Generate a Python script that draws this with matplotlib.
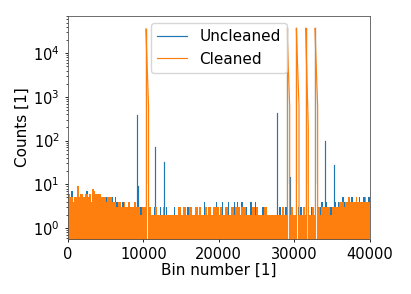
import numpy as np
import matplotlib
matplotlib.use("Agg")
import matplotlib.pyplot as plt
from matplotlib.lines import Line2D

# ---------------- data ----------------
SEGMENT_WIDTH = 200  # bins per noise segment

# upper envelope of the noise floor, one value per 200-bin segment
cleaned_noise = [
    # 0 - 4000
    6, 5, 5, 4, 5, 5, 9, 5, 6, 6, 5, 6, 6, 5, 6, 4, 8, 7, 6, 6,
    # 4000 - 6000
    6, 6, 5, 5, 5, 4, 5, 5, 5, 4,
    # 6000 - 7000
    4, 4, 3, 4, 4,
    # 7000 - 9000
    3, 3, 4, 3, 3, 4, 3, 3, 3, 4,
    # 9000 - 10400
    3, 3, 3, 2, 3, 3, 3,
    # 10400 - 13600
    2, 2, 3, 2, 2, 2, 3, 2, 2, 2, 2, 3, 2, 2, 2, 2,
    # 13600 - 27000
    2, 2, 2, 2, 2, 3, 3, 2, 3, 3, 2, 2, 3, 3, 2, 2, 3, 3, 2, 3,
    2, 2, 2, 3, 2, 3, 3, 2, 3, 3, 3, 3, 2, 3, 2, 2, 3, 3, 2, 2,
    3, 3, 2, 3, 3, 3, 2, 3, 3, 3, 2, 2, 2, 2, 3, 3, 2, 3, 2, 2,
    2, 2, 3, 3, 2, 2, 2,
    # 27000 - 33000
    2, 2, 2, 2, 2, 2, 2, 3, 2, 2, 2, 2, 2, 3, 2, 2, 3, 2, 2, 2,
    2, 3, 2, 2, 3, 2, 2, 3, 2, 2,
    # 33000 - 36000
    3, 3, 2, 3, 3, 3, 3, 3, 3, 2, 3, 3, 3, 3, 3,
    # 36000 - 40000
    4, 4, 4, 3, 4, 4, 5, 4, 4, 4, 4, 5, 4, 4, 4, 4, 4, 5, 4, 4,
]
uncleaned_noise = [
    # 0 - 4000
    6, 5, 7, 4, 5, 5, 9, 5, 6, 6, 5, 6, 7, 5, 6, 4, 8, 7, 6, 6,
    # 4000 - 6000
    6, 6, 5, 5, 5, 5, 5, 5, 5, 5,
    # 6000 - 7000
    4, 5, 4, 4, 4,
    # 7000 - 9000
    3, 4, 4, 3, 3, 4, 3, 3, 3, 4,
    # 9000 - 10400
    3, 3, 3, 3, 3, 3, 3,
    # 10400 - 13600
    2, 3, 3, 2, 2, 3, 3, 2, 2, 3, 2, 3, 2, 3, 2, 2,
    # 13600 - 27000
    2, 2, 3, 2, 2, 3, 3, 2, 3, 3, 2, 3, 3, 3, 2, 2, 3, 3, 2, 3,
    2, 2, 4, 3, 2, 3, 3, 2, 3, 3, 4, 3, 2, 3, 4, 2, 3, 3, 4, 2,
    3, 3, 4, 3, 4, 3, 2, 4, 3, 3, 3, 2, 2, 4, 3, 3, 4, 3, 2, 2,
    2, 3, 3, 3, 2, 2, 2,
    # 27000 - 33000
    2, 2, 2, 2, 2, 3, 2, 3, 2, 3, 2, 2, 3, 3, 2, 2, 3, 3, 2, 3,
    2, 3, 2, 3, 3, 2, 3, 3, 2, 3,
    # 33000 - 36000
    3, 3, 3, 4, 3, 3, 4, 3, 3, 3, 3, 3, 4, 3, 4,
    # 36000 - 40000
    4, 4, 5, 4, 4, 4, 5, 4, 5, 4, 4, 5, 4, 5, 4, 4, 5, 5, 4, 5,
]

# sharp peaks
cleaned_peak_bins = [10330, 29050, 30290, 31520, 32760]
cleaned_peak_counts = [36000, 37000, 37000, 37000, 37000]
cleaned_tail_counts = [600, 600, 600, 195, 600]

uncleaned_peak_bins = [9100, 9230, 10330, 11570, 12800, 27775, 29050,
                       29400, 30290, 31520, 32760, 34040, 35270]
uncleaned_peak_counts = [390, 9, 36000, 71, 32, 430, 37000,
                         15, 37000, 37000, 37000, 98, 27]

x_ticks = [0, 10000, 20000, 30000, 40000]
series_labels = ["Uncleaned", "Cleaned"]

# ---------------- style ----------------
BLUE = "#1f77b4"
ORANGE = "#ff7f0e"
FLOOR = 1e-2
LW = 0.85
TAIL_OFFSET = 360

fig = plt.figure(figsize=(4.11, 2.94), dpi=100)
ax = fig.add_axes([68 / 411, 1 - 238.5 / 294, (369.5 - 68) / 411, (238.5 - 16) / 294])

edges = np.arange(len(cleaned_noise) + 1) * SEGMENT_WIDTH


def step_vals(v):
    v = np.asarray(v, dtype=float)
    return np.append(v, v[-1])


# uncleaned (drawn first, underneath)
ax.fill_between(edges, FLOOR, step_vals(uncleaned_noise), step="post",
                color=BLUE, lw=0, zorder=1.0)
for c, h in zip(uncleaned_peak_bins, uncleaned_peak_counts):
    ax.plot([c, c], [FLOOR, h], color=BLUE, lw=LW, zorder=1.1)

# cleaned
ax.fill_between(edges, FLOOR, step_vals(cleaned_noise), step="post",
                color=ORANGE, lw=0, zorder=1.2)
# bins right after each peak never drop to zero -> no fill there
ax.bar(np.asarray(cleaned_peak_bins) + TAIL_OFFSET / 2, 10 - FLOOR, bottom=FLOOR,
       width=TAIL_OFFSET - 140, color="white", lw=0, zorder=1.3)
for c, h, t in zip(cleaned_peak_bins, cleaned_peak_counts, cleaned_tail_counts):
    ax.plot([c, c], [FLOOR, h], color=ORANGE, lw=LW, zorder=1.4)
    ax.plot([c, c + TAIL_OFFSET, c + TAIL_OFFSET], [h, t, FLOOR],
            color=ORANGE, lw=LW, zorder=1.4)

ax.set_yscale("log")
ax.set_xlim(0, 40000)
ax.set_ylim(0.575, 7.1e4)
ax.set_xticks(x_ticks)
ax.tick_params(labelsize=10.5, length=2.5, width=0.6)
ax.tick_params(which="minor", length=1.5, width=0.5)
for s in ax.spines.values():
    s.set_linewidth(0.6)
    s.set_color("#555555")

ax.set_xlabel("Bin number [1]", fontsize=11, labelpad=1)
ax.set_ylabel("Counts [1]", fontsize=11, labelpad=2)

handles = [Line2D([], [], color=BLUE, lw=LW), Line2D([], [], color=ORANGE, lw=LW)]
ax.legend(handles, series_labels, loc="upper center", fontsize=11,
          handlelength=2.0, borderaxespad=0.45)

fig.savefig("out.png", dpi=100)
